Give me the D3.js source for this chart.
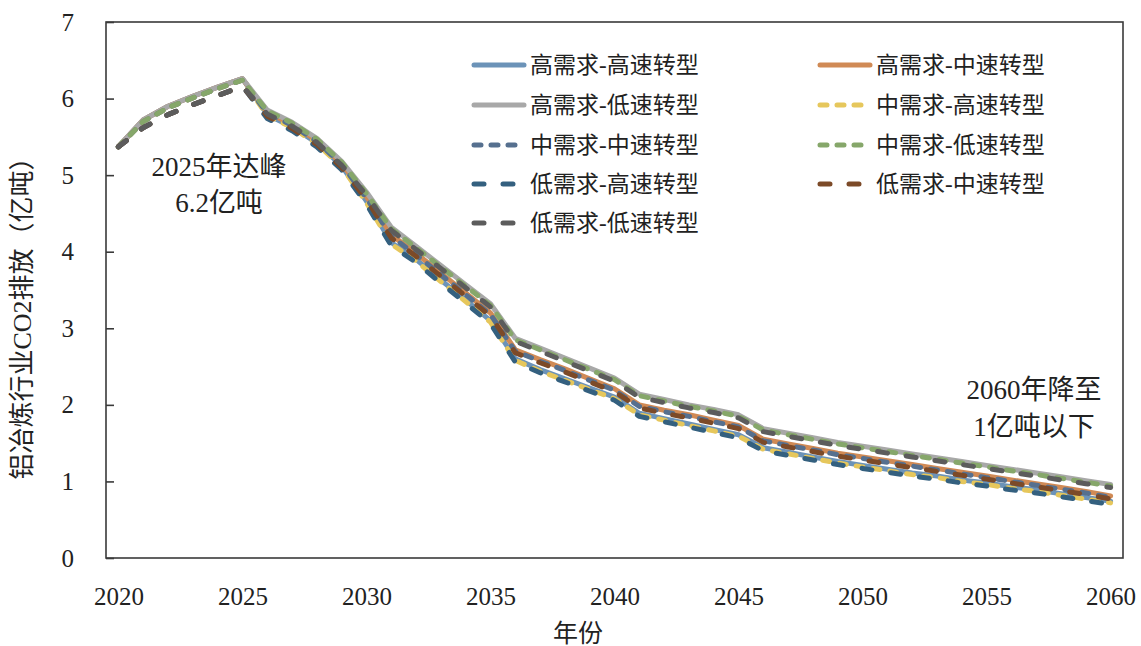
<!DOCTYPE html>
<html>
<head>
<meta charset="utf-8">
<script src="https://cdn.jsdelivr.net/npm/d3@7"></script>
<style>
  html, body { margin: 0; padding: 0; background: #fff; }
  svg { display: block; }
  text { font-family: "Liberation Serif", "Noto Sans CJK SC", serif; fill: #222; }
</style>
</head>
<body>
<svg id="chart" width="1141" height="646"></svg>
<script>
// Years on the horizontal axis
const years = [2020, 2021, 2022, 2023, 2024, 2025, 2026, 2027, 2028, 2029,
               2030, 2031, 2032, 2033, 2034, 2035, 2036, 2037, 2038, 2039,
               2040, 2041, 2042, 2043, 2044, 2045, 2046, 2047, 2048, 2049,
               2050, 2051, 2052, 2053, 2054, 2055, 2056, 2057, 2058, 2059, 2060];

const xTickYears = [2020, 2025, 2030, 2035, 2040, 2045, 2050, 2055, 2060];
const yTickValues = [0, 1, 2, 3, 4, 5, 6, 7];

// Scenario names (demand level - transition speed)
const scenarioNames = [
  "高需求-高速转型", "高需求-中速转型", "高需求-低速转型",
  "中需求-高速转型", "中需求-中速转型", "中需求-低速转型",
  "低需求-高速转型", "低需求-中速转型", "低需求-低速转型"
];

// CO2 emissions of aluminium smelting, 100 million tonnes, 2020-2060
const highDemandHighSpeed = [5.37, 5.72, 5.90, 6.03, 6.15, 6.26, 5.79, 5.63, 5.42, 5.12,
  4.66, 4.12, 3.90, 3.63, 3.37, 3.10, 2.60, 2.46, 2.34, 2.22,
  2.10, 1.89, 1.82, 1.75, 1.68, 1.61, 1.44, 1.38, 1.32, 1.26,
  1.21, 1.16, 1.11, 1.07, 1.02, 0.98, 0.93, 0.89, 0.84, 0.79, 0.74];
const highDemandMidSpeed = [5.37, 5.72, 5.90, 6.03, 6.15, 6.26, 5.82, 5.66, 5.45, 5.15,
  4.72, 4.22, 3.98, 3.72, 3.46, 3.20, 2.72, 2.59, 2.47, 2.34,
  2.21, 2.00, 1.93, 1.87, 1.80, 1.73, 1.55, 1.49, 1.43, 1.37,
  1.32, 1.27, 1.22, 1.17, 1.12, 1.07, 1.02, 0.97, 0.92, 0.87, 0.81];
const highDemandLowSpeed = [5.37, 5.72, 5.90, 6.03, 6.15, 6.26, 5.85, 5.69, 5.48, 5.18,
  4.78, 4.32, 4.07, 3.82, 3.57, 3.32, 2.87, 2.74, 2.61, 2.48,
  2.35, 2.14, 2.07, 2.00, 1.94, 1.87, 1.69, 1.63, 1.57, 1.51,
  1.46, 1.41, 1.36, 1.31, 1.26, 1.21, 1.16, 1.11, 1.06, 1.01, 0.96];
const midDemandHighSpeed = [5.37, 5.70, 5.88, 6.01, 6.13, 6.24, 5.78, 5.62, 5.41, 5.11,
  4.64, 4.10, 3.88, 3.61, 3.35, 3.08, 2.58, 2.44, 2.32, 2.20,
  2.08, 1.87, 1.80, 1.73, 1.66, 1.59, 1.42, 1.36, 1.30, 1.24,
  1.19, 1.14, 1.09, 1.05, 1.00, 0.96, 0.91, 0.87, 0.82, 0.77, 0.72];
const midDemandMidSpeed = [5.37, 5.70, 5.88, 6.01, 6.13, 6.24, 5.81, 5.65, 5.44, 5.14,
  4.70, 4.20, 3.96, 3.70, 3.44, 3.18, 2.70, 2.57, 2.45, 2.32,
  2.19, 1.98, 1.91, 1.85, 1.78, 1.71, 1.53, 1.47, 1.41, 1.35,
  1.30, 1.25, 1.20, 1.15, 1.10, 1.05, 1.00, 0.95, 0.90, 0.85, 0.79];
const midDemandLowSpeed = [5.37, 5.70, 5.88, 6.01, 6.13, 6.24, 5.84, 5.68, 5.47, 5.17,
  4.76, 4.30, 4.05, 3.80, 3.55, 3.30, 2.85, 2.72, 2.59, 2.46,
  2.33, 2.12, 2.05, 1.98, 1.92, 1.85, 1.67, 1.61, 1.55, 1.49,
  1.44, 1.39, 1.34, 1.29, 1.24, 1.19, 1.14, 1.09, 1.04, 0.99, 0.94];
const lowDemandHighSpeed = [5.37, 5.62, 5.79, 5.92, 6.04, 6.16, 5.74, 5.58, 5.37, 5.07,
  4.62, 4.08, 3.86, 3.59, 3.33, 3.06, 2.56, 2.42, 2.30, 2.18,
  2.06, 1.85, 1.78, 1.71, 1.64, 1.57, 1.40, 1.34, 1.28, 1.22,
  1.17, 1.12, 1.07, 1.03, 0.98, 0.94, 0.89, 0.85, 0.80, 0.75, 0.70];
const lowDemandMidSpeed = [5.37, 5.62, 5.79, 5.92, 6.04, 6.16, 5.77, 5.61, 5.40, 5.10,
  4.68, 4.18, 3.94, 3.68, 3.42, 3.16, 2.68, 2.55, 2.43, 2.30,
  2.17, 1.96, 1.89, 1.83, 1.76, 1.69, 1.51, 1.45, 1.39, 1.33,
  1.28, 1.23, 1.18, 1.13, 1.08, 1.03, 0.98, 0.93, 0.88, 0.83, 0.77];
const lowDemandLowSpeed = [5.37, 5.62, 5.79, 5.92, 6.04, 6.16, 5.80, 5.64, 5.43, 5.13,
  4.74, 4.28, 4.03, 3.78, 3.53, 3.28, 2.83, 2.70, 2.57, 2.44,
  2.31, 2.10, 2.03, 1.96, 1.90, 1.83, 1.65, 1.59, 1.53, 1.47,
  1.42, 1.37, 1.32, 1.27, 1.22, 1.17, 1.12, 1.07, 1.02, 0.97, 0.92];

const seriesValues = [
  highDemandHighSpeed, highDemandMidSpeed, highDemandLowSpeed,
  midDemandHighSpeed, midDemandMidSpeed, midDemandLowSpeed,
  lowDemandHighSpeed, lowDemandMidSpeed, lowDemandLowSpeed
];

// Line appearance for each scenario
const lineStyles = [
  { color: "#6c93b8", dash: null },
  { color: "#d08a55", dash: null },
  { color: "#a8a8a8", dash: null },
  { color: "#e6c75c", dash: "short" },
  { color: "#56708f", dash: "short" },
  { color: "#86a76a", dash: "short" },
  { color: "#34607f", dash: "long" },
  { color: "#7c4a28", dash: "long" },
  { color: "#5c5c5c", dash: "long" }
];
const dashPatterns = { short: "7,10", long: "10,19" };

const plot = { left: 106, right: 1123, top: 22, bottom: 558 };

const svg = d3.select("#chart");

const x = d3.scaleLinear()
  .domain([years[0] - 0.5, years[years.length - 1] + 0.5])
  .range([plot.left, plot.right]);
const y = d3.scaleLinear().domain([0, 7]).range([plot.bottom, plot.top]);

// Emission lines
const line = d3.line()
  .x((d, i) => x(years[i]))
  .y(d => y(d));

const lines = svg.append("g").attr("class", "lines");
seriesValues.forEach((vals, k) => {
  const st = lineStyles[k];
  lines.append("path")
    .datum(vals)
    .attr("d", line)
    .attr("fill", "none")
    .attr("stroke", st.color)
    .attr("stroke-width", 5)
    .attr("stroke-linejoin", "round")
    .attr("stroke-linecap", "round")
    .attr("stroke-dasharray", st.dash ? dashPatterns[st.dash] : null);
});

// Plot frame
svg.append("rect")
  .attr("x", plot.left).attr("y", plot.top)
  .attr("width", plot.right - plot.left)
  .attr("height", plot.bottom - plot.top)
  .attr("fill", "none")
  .attr("stroke", "#3a3a3a")
  .attr("stroke-width", 1.6);

// Y axis: inner ticks and labels
const yAxis = d3.axisLeft(y)
  .tickValues(yTickValues)
  .tickSize(-8)
  .tickPadding(32)
  .tickFormat(d3.format("d"));
const yg = svg.append("g")
  .attr("transform", `translate(${plot.left},0)`)
  .call(yAxis);
yg.select(".domain").remove();
yg.selectAll(".tick line").attr("stroke", "#3a3a3a").attr("stroke-width", 1.6);
yg.selectAll(".tick text")
  .attr("font-size", 25)
  .attr("font-family", "Liberation Serif, serif")
  .attr("fill", "#222");

// X axis labels
const xAxis = d3.axisBottom(x)
  .tickValues(xTickYears)
  .tickSize(0)
  .tickPadding(29)
  .tickFormat(d3.format("d"));
const xg = svg.append("g")
  .attr("transform", `translate(0,${plot.bottom})`)
  .call(xAxis);
xg.select(".domain").remove();
xg.selectAll(".tick text")
  .attr("font-size", 25)
  .attr("font-family", "Liberation Serif, serif")
  .attr("fill", "#222");

// Axis titles
svg.append("text")
  .attr("x", 578).attr("y", 642)
  .attr("text-anchor", "middle")
  .attr("font-size", 25)
  .text("年份");

svg.append("text")
  .attr("transform", "translate(31,312) rotate(-90)")
  .attr("text-anchor", "middle")
  .attr("font-size", 26)
  .text("铝冶炼行业CO2排放（亿吨）");

// Annotations
const notes = [
  { x: 219, y: 176, text: "2025年达峰" },
  { x: 219, y: 212, text: "6.2亿吨" },
  { x: 1034, y: 399, text: "2060年降至" },
  { x: 1034, y: 436, text: "1亿吨以下" }
];
svg.append("g").selectAll("text")
  .data(notes).join("text")
  .attr("x", d => d.x).attr("y", d => d.y)
  .attr("text-anchor", "middle")
  .attr("font-size", 27)
  .text(d => d.text);

// Legend, two columns
const legendCols = [472, 818];
const legendRows = [65, 105, 145, 184, 223];
const legend = svg.append("g").attr("class", "legend");
scenarioNames.forEach((name, k) => {
  const cx = legendCols[k % 2];
  const cy = legendRows[Math.floor(k / 2)];
  const st = lineStyles[k];
  legend.append("line")
    .attr("x1", cx + 2).attr("x2", cx + 52)
    .attr("y1", cy).attr("y2", cy)
    .attr("stroke", st.color)
    .attr("stroke-width", 5)
    .attr("stroke-linecap", "round")
    .attr("stroke-dasharray", st.dash ? dashPatterns[st.dash] : null);
  legend.append("text")
    .attr("x", cx + 58).attr("y", cy)
    .attr("dy", "0.36em")
    .attr("font-size", 23)
    .text(name);
});
</script>
</body>
</html>
